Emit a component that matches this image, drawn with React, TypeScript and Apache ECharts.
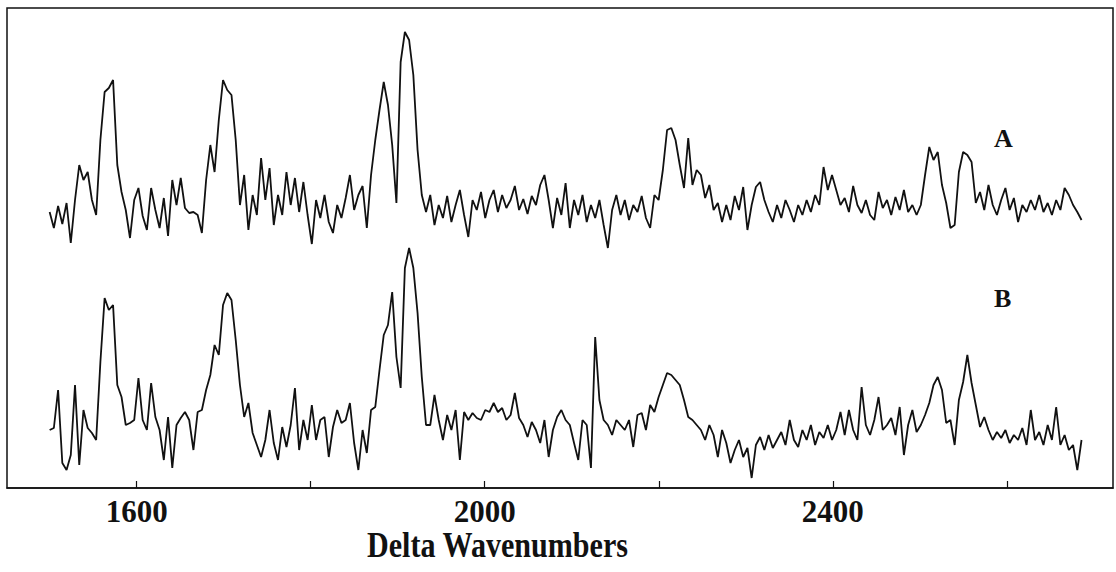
import React, { useEffect, useRef } from "react";
import * as echarts from "echarts";

// Raman difference spectra, evenly sampled from 1500 cm-1 in steps of 4.86 cm-1.
const WN_START = 1500;
const WN_STEP = 4.86;

// Spectrum A (relative intensity, baseline ~ 0)
const spectrumA = [
  1, -15, 7, -11, 10, -30, 13, 48, 33, 41, 13, -2, 73, 121, 125, 133, 48, 21, 3, -25,
  13, 25, -3, -17, 25, 3, -15, 15, -23, 33, 8, 35, 5, 0, 1, -2, -20, 33, 68, 41,
  93, 133, 123, 118, 73, 8, 38, -17, 18, -2, 55, 13, 45, -12, 18, -2, 41, 8, 35, 1,
  31, -2, -31, 13, -5, 18, -9, -20, 8, -5, 15, 38, 3, 18, 27, -15, 38, 73, 103, 131,
  108, 68, 10, 151, 181, 173, 138, 63, 18, 1, 18, -12, 8, -5, 17, -9, 8, 23, -2, -24,
  13, 3, 21, -5, 13, 23, 1, 18, 5, 13, 27, 3, 14, -1, 17, 8, 28, 38, 13, -15,
  15, -2, 30, -15, 13, -2, 18, -9, 8, -5, 13, -12, -35, 3, 18, -2, 13, -7, 8, 1,
  17, -5, -15, 18, 13, 43, 83, 85, 73, 48, 25, 75, 28, 43, 38, 15, 28, 3, 10, -9,
  8, -7, 17, 3, 26, -17, 8, 26, 31, 13, 1, -9, 8, -5, 13, 3, -9, 8, -2, 13,
  1, 18, 8, 46, 23, 38, 23, 8, 15, 1, 27, 8, 0, 13, -2, -7, 21, 5, 13, -2,
  16, 3, 23, 1, 8, -2, 8, 38, 66, 53, 61, 28, 10, -15, -12, 41, 61, 58, 51, 10,
  21, 3, 28, 8, -2, 13, 25, 3, 15, -9, 8, 1, 13, 3, 18, 1, 10, -2, 13, 3,
  25, 18, 8, 1, -7,
];

// Spectrum B (relative intensity, baseline ~ 0)
const spectrumB = [
  0, 2, 40, -33, -40, -25, 45, -35, 20, 2, -3, -10, 68, 132, 120, 125, 45, 33, 5, 7,
  10, 52, 10, 0, 47, 13, 0, -30, 13, -38, 5, 12, 18, 10, -20, 18, 20, 40, 55, 85,
  75, 125, 137, 130, 90, 45, 13, 27, -3, -15, -27, -10, 20, -13, -30, 3, -17, 5, 42, -20,
  10, -10, 25, -10, 10, 13, -27, 3, 20, 7, 10, 27, -13, -40, 0, -23, 20, 23, 60, 95,
  105, 138, 73, 42, 162, 182, 162, 117, 53, 5, 5, 35, 10, -10, 15, 0, 20, -30, 18, 10,
  17, 12, 10, 20, 18, 27, 18, 22, 10, 15, 37, 12, 5, -7, 8, 0, -13, 10, -27, 0,
  13, 20, 10, 5, -13, -30, 10, 5, -38, 93, 30, 10, 5, -5, 10, 5, 0, 10, -17, 15,
  17, 0, 25, 18, 33, 45, 57, 55, 50, 45, 30, 13, 10, 5, 0, -10, 5, -5, -27, 0,
  -13, -33, -20, -10, -27, -18, -48, -15, -7, -20, -5, -18, -10, -2, -15, 10, -10, -17, 0, -10,
  5, -15, -2, -8, 5, -10, 0, 18, -5, 20, 0, -10, 43, 5, -5, 10, 33, 0, 5, 12,
  -5, 23, -25, 5, 20, -2, 5, 15, 27, 45, 53, 40, 7, 10, -15, 30, 48, 75, 47, 25,
  3, 13, 0, -10, -2, -8, 0, -13, -5, -10, 2, -15, 20, -10, -2, -15, 5, -10, 23, -15,
  -5, -20, -15, -40, -10,
];

// Axis ticks and labels (cm-1)
const tickValues = [1600, 1800, 2000, 2200, 2400, 2600];
const labelValues = [1600, 2000, 2400];
const traceLabels = ["A", "B"];
const axisTitle = "Delta Wavenumbers";

const toPairs = (values: number[]) =>
  values.map((v, i) => [+(WN_START + i * WN_STEP).toFixed(2), v]);

export default function App() {
  const ref = useRef<HTMLDivElement>(null);

  useEffect(() => {
    if (!ref.current) return;
    const chart = echarts.init(ref.current, null, { renderer: "svg" });
    const serif = "'Liberation Serif', 'Times New Roman', serif";
    const ink = "#111";
    chart.setOption({
      animation: false,
      backgroundColor: "#ffffff",
      grid: {
        left: 7,
        right: 3,
        top: 8,
        bottom: 84,
        show: true,
        borderColor: ink,
        borderWidth: 1.5,
        backgroundColor: "transparent",
      },
      xAxis: {
        type: "value",
        min: 1451,
        max: 2722,
        axisLine: { show: true, onZero: false, lineStyle: { color: ink, width: 1.5 } },
        axisTick: {
          show: true,
          inside: true,
          length: 7,
          customValues: tickValues,
          lineStyle: { color: ink, width: 1.2 },
        },
        axisLabel: {
          show: true,
          customValues: labelValues,
          formatter: (v: number) => String(v),
          fontFamily: serif,
          fontWeight: "bold",
          fontSize: 31,
          color: ink,
          margin: 8,
        },
        splitLine: { show: false },
      },
      yAxis: [
        { type: "value", min: -275, max: 205, show: false },
        { type: "value", min: -58, max: 422, show: false },
      ],
      graphic: [
        {
          type: "text",
          x: 367,
          y: 528,
          scaleX: 0.86,
          style: {
            text: axisTitle,
            font: `bold 35px ${serif}`,
            fill: ink,
          },
        },
        {
          type: "text",
          left: 994,
          top: 125,
          style: { text: traceLabels[0], font: `bold 26px ${serif}`, fill: ink },
        },
        {
          type: "text",
          left: 994,
          top: 285,
          style: { text: traceLabels[1], font: `bold 26px ${serif}`, fill: ink },
        },
      ],
      series: [
        {
          name: traceLabels[0],
          type: "line",
          yAxisIndex: 0,
          data: toPairs(spectrumA),
          showSymbol: false,
          lineStyle: { color: ink, width: 1.8 },
        },
        {
          name: traceLabels[1],
          type: "line",
          yAxisIndex: 1,
          data: toPairs(spectrumB),
          showSymbol: false,
          lineStyle: { color: ink, width: 1.8 },
        },
      ],
    });
    return () => chart.dispose();
  }, []);

  return (
    <div
      ref={ref}
      style={{ position: "fixed", left: 0, top: 0, width: 1116, height: 572 }}
    />
  );
}
